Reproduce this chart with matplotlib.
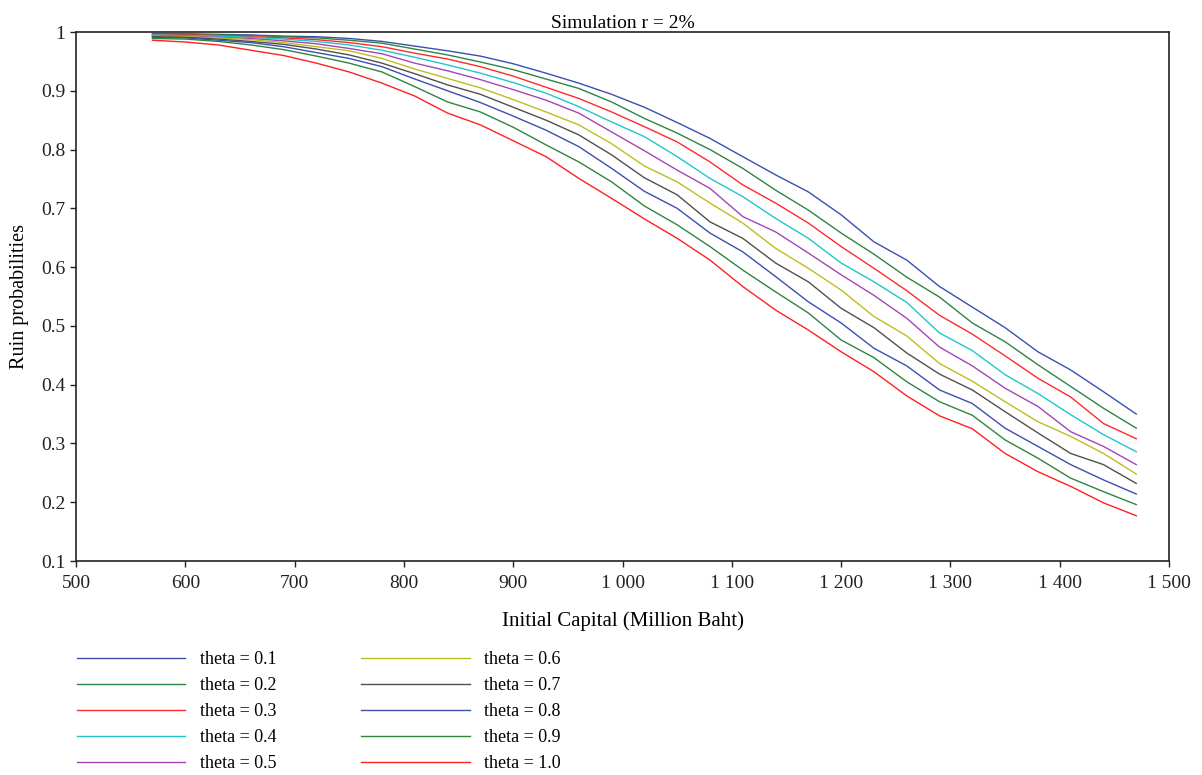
import matplotlib
matplotlib.use("Agg")
import matplotlib.pyplot as plt
from matplotlib.ticker import FuncFormatter

plt.rcParams['font.family'] = ['Liberation Serif', 'DejaVu Serif']

# initial capital (million baht)
capital = list(range(570, 1471, 30))

theta_labels = ["theta = 0.1", "theta = 0.2", "theta = 0.3", "theta = 0.4", "theta = 0.5",
                "theta = 0.6", "theta = 0.7", "theta = 0.8", "theta = 0.9", "theta = 1.0"]

# ruin probabilities, one list per theta
theta_01 = [0.997, 0.997, 0.996, 0.995, 0.993, 0.992, 0.989, 0.984, 0.976, 0.968, 0.959,
            0.946, 0.930, 0.913, 0.894, 0.872, 0.846, 0.819, 0.788, 0.757, 0.728, 0.689,
            0.643, 0.612, 0.567, 0.532, 0.497, 0.456, 0.425, 0.388, 0.350]
theta_02 = [0.996, 0.996, 0.995, 0.994, 0.992, 0.990, 0.986, 0.981, 0.971, 0.961, 0.949,
            0.936, 0.920, 0.904, 0.881, 0.853, 0.828, 0.800, 0.768, 0.731, 0.697, 0.658,
            0.622, 0.583, 0.549, 0.505, 0.473, 0.434, 0.397, 0.360, 0.326]
theta_03 = [0.996, 0.995, 0.994, 0.992, 0.990, 0.987, 0.982, 0.975, 0.964, 0.954, 0.941,
            0.925, 0.906, 0.887, 0.864, 0.839, 0.813, 0.779, 0.740, 0.709, 0.675, 0.635,
            0.598, 0.560, 0.518, 0.486, 0.449, 0.411, 0.379, 0.334, 0.308]
theta_04 = [0.995, 0.994, 0.993, 0.991, 0.988, 0.984, 0.978, 0.969, 0.957, 0.944, 0.930,
            0.914, 0.896, 0.873, 0.847, 0.822, 0.788, 0.751, 0.720, 0.683, 0.649, 0.607,
            0.575, 0.540, 0.488, 0.458, 0.417, 0.385, 0.349, 0.315, 0.286]
theta_05 = [0.994, 0.993, 0.991, 0.989, 0.985, 0.980, 0.972, 0.963, 0.947, 0.934, 0.919,
            0.902, 0.884, 0.862, 0.830, 0.798, 0.765, 0.734, 0.686, 0.660, 0.624, 0.587,
            0.552, 0.513, 0.464, 0.432, 0.394, 0.363, 0.320, 0.295, 0.264]
theta_06 = [0.993, 0.992, 0.990, 0.987, 0.982, 0.975, 0.968, 0.955, 0.937, 0.921, 0.905,
            0.885, 0.864, 0.842, 0.810, 0.772, 0.745, 0.709, 0.675, 0.632, 0.598, 0.561,
            0.516, 0.483, 0.436, 0.406, 0.371, 0.337, 0.312, 0.283, 0.248]
theta_07 = [0.992, 0.991, 0.988, 0.984, 0.979, 0.971, 0.961, 0.947, 0.929, 0.910, 0.894,
            0.872, 0.850, 0.825, 0.791, 0.752, 0.723, 0.677, 0.649, 0.607, 0.575, 0.530,
            0.497, 0.454, 0.418, 0.391, 0.354, 0.318, 0.283, 0.264, 0.232]
theta_08 = [0.991, 0.990, 0.986, 0.982, 0.975, 0.965, 0.955, 0.941, 0.920, 0.900, 0.880,
            0.857, 0.833, 0.805, 0.768, 0.729, 0.700, 0.658, 0.626, 0.584, 0.541, 0.505,
            0.462, 0.432, 0.391, 0.368, 0.326, 0.295, 0.264, 0.238, 0.214]
theta_09 = [0.989, 0.988, 0.984, 0.978, 0.970, 0.959, 0.947, 0.932, 0.907, 0.881, 0.864,
            0.838, 0.808, 0.779, 0.745, 0.704, 0.672, 0.635, 0.595, 0.558, 0.522, 0.476,
            0.446, 0.405, 0.371, 0.348, 0.306, 0.275, 0.241, 0.218, 0.196]
theta_10 = [0.986, 0.983, 0.978, 0.969, 0.960, 0.947, 0.932, 0.913, 0.891, 0.862, 0.842,
            0.815, 0.788, 0.751, 0.717, 0.682, 0.649, 0.612, 0.567, 0.527, 0.493, 0.456,
            0.422, 0.381, 0.347, 0.325, 0.283, 0.252, 0.227, 0.199, 0.177]

series = [theta_01, theta_02, theta_03, theta_04, theta_05,
          theta_06, theta_07, theta_08, theta_09, theta_10]
colors = ["#3a4fb0", "#2e8540", "#ff2a2a", "#22c4cc", "#a545b5",
          "#bdbd22", "#505050", "#3a4fb0", "#2e8540", "#ff2020"]

fig = plt.figure(figsize=(12.02, 7.75), dpi=100)
ax = fig.add_axes([0.0632, 0.2761, 0.9094, 0.6826])

for vals, col, lab in zip(series, colors, theta_labels):
    ax.plot(capital, vals, color=col, linewidth=1.0, label=lab)

ax.set_xlim(500, 1500)
ax.set_ylim(0.1, 1.0)
ax.set_xticks(range(500, 1501, 100))
ax.set_yticks([0.1, 0.2, 0.3, 0.4, 0.5, 0.6, 0.7, 0.8, 0.9, 1.0])
ax.xaxis.set_major_formatter(FuncFormatter(lambda v, p: f"{int(v):,}".replace(",", " ")))
ax.yaxis.set_major_formatter(FuncFormatter(lambda v, p: "1" if abs(v - 1) < 1e-9 else f"{v:.1f}"))
ax.tick_params(direction="out", length=4, width=1, labelsize=14, colors="#222222")
ax.tick_params(axis="x", pad=6)
for s in ax.spines.values():
    s.set_linewidth(1.2)
    s.set_color("#222222")

ax.set_title("Simulation r = 2%", fontsize=14, pad=3)
ax.set_xlabel("Initial Capital (Million Baht)", fontsize=15, labelpad=14)
ax.set_ylabel("Ruin probabilities", fontsize=14.5, labelpad=9)

fig.legend(loc="upper left", bbox_to_anchor=(0.0566, 0.1716), ncol=2, frameon=False,
           fontsize=13, handlelength=6.0, handletextpad=0.8, columnspacing=4.7,
           labelspacing=0.5, borderpad=0)

plt.savefig("out.png", dpi=100)
